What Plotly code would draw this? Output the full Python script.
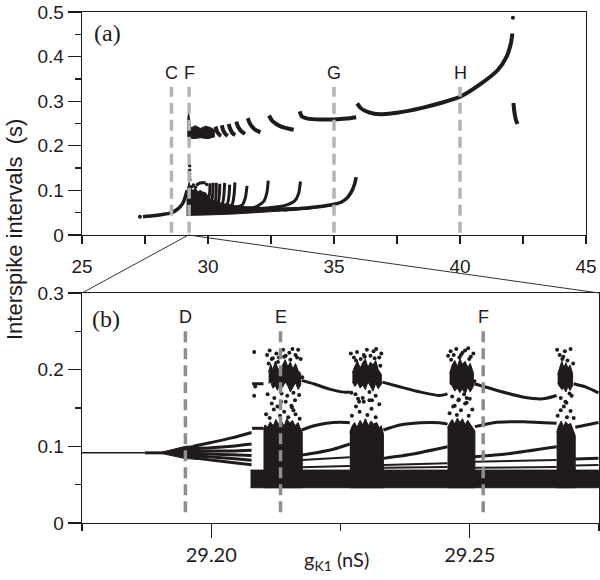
import plotly.graph_objects as go

INK = '#1f1b1c'
W, H = 600, 580


def px(x):                   # page pixel -> paper x
    return x / W


def py(y):                   # page pixel -> paper y
    return (H - y) / H


# ================= panel (a) data =================
a_lead_dot_x = [27.3]
a_lead_dot_y = [0.041]
a_lead_x = [27.42, 27.8, 28.2, 28.5, 28.75, 29.0, 29.1, 29.17]
a_lead_y = [0.041, 0.043, 0.046, 0.049, 0.056, 0.071, 0.086, 0.1]

a_band_top_x = [29.15, 29.2, 29.25, 29.3, 29.4, 29.5, 29.6, 29.7, 29.8, 29.9, 29.97, 30.1, 30.4, 30.8, 31.3, 32.0, 33.0, 34.0, 34.6, 35.0]
a_band_top_y = [0.096, 0.108, 0.118, 0.106, 0.1, 0.104, 0.097, 0.1, 0.096, 0.095, 0.09, 0.08, 0.073, 0.068, 0.064, 0.062, 0.061, 0.062, 0.065, 0.069]
a_band_bot_x = [29.15, 29.5, 30.0, 31.0, 32.0, 33.0, 34.0, 35.0]
a_band_bot_y = [0.044, 0.044, 0.045, 0.047, 0.05, 0.054, 0.058, 0.066]

a_main_x = [33.0, 34.0, 34.6, 35.0, 35.3, 35.55, 35.72, 35.82, 35.88]
a_main_y = [0.056, 0.061, 0.065, 0.069, 0.074, 0.085, 0.1, 0.115, 0.13]

a_fingers_x = [
    [29.98, 30.04, 30.07, 30.08],
    [30.05, 30.15, 30.19, 30.2],
    [30.1, 30.28, 30.32, 30.33],
    [30.15, 30.4, 30.45, 30.47],
    [30.2, 30.57, 30.63, 30.66],
    [30.3, 30.76, 30.83, 30.86],
    [30.4, 30.95, 31.03, 31.07],
    [30.6, 31.35, 31.48, 31.55],
    [31.0, 31.9, 32.22, 32.34, 32.39],
    [31.8, 32.6, 33.1, 33.45, 33.6, 33.67],
]
a_fingers_y = [
    [0.075, 0.085, 0.098, 0.116],
    [0.07, 0.078, 0.094, 0.117],
    [0.066, 0.074, 0.092, 0.117],
    [0.064, 0.072, 0.09, 0.115],
    [0.062, 0.071, 0.09, 0.117],
    [0.06, 0.069, 0.087, 0.113],
    [0.059, 0.068, 0.088, 0.118],
    [0.058, 0.067, 0.083, 0.11],
    [0.056, 0.063, 0.076, 0.096, 0.122],
    [0.058, 0.062, 0.067, 0.077, 0.094, 0.12],
]
a_dots_x = [29.27, 29.27, 29.27, 29.27, 29.28, 29.35, 29.42, 29.5, 29.58, 29.66, 29.75, 29.85, 29.95]
a_dots_y = [0.155, 0.145, 0.137, 0.13, 0.124, 0.108, 0.112, 0.107, 0.113, 0.116, 0.117, 0.117, 0.113]

a_ucl_x = [29.2, 29.2, 29.23, 29.27, 29.3, 29.32, 29.5, 29.7, 29.9, 30.1, 30.25, 30.25, 30.0, 29.7, 29.4, 29.2]
a_ucl_y = [0.22, 0.262, 0.274, 0.262, 0.248, 0.24, 0.245, 0.239, 0.244, 0.241, 0.236, 0.22, 0.216, 0.218, 0.216, 0.22]

a_arcs_x = [
    [30.3, 30.36, 30.45, 30.52],
    [30.55, 30.6, 30.7, 30.78],
    [30.82, 30.88, 30.98, 31.08],
    [31.12, 31.2, 31.33, 31.47],
    [31.58, 31.66, 31.85, 32.08],
    [32.42, 32.55, 32.9, 33.4],
    [33.64, 33.72, 33.95, 34.5, 35.0, 35.5, 35.88],
    [35.92, 36.05, 36.25, 36.6, 36.9, 37.5, 38.5, 39.3, 40.0, 40.85, 41.5, 41.85, 42.02, 42.08],
    [42.12, 42.16, 42.22, 42.28],
]
a_arcs_y = [
    [0.243, 0.232, 0.225, 0.222],
    [0.246, 0.235, 0.226, 0.222],
    [0.249, 0.238, 0.228, 0.224],
    [0.254, 0.242, 0.232, 0.227],
    [0.262, 0.25, 0.237, 0.23],
    [0.268, 0.256, 0.243, 0.236],
    [0.277, 0.266, 0.261, 0.259, 0.259, 0.261, 0.264],
    [0.295, 0.285, 0.278, 0.272, 0.271, 0.274, 0.285, 0.297, 0.31, 0.34, 0.37, 0.40, 0.43, 0.452],
    [0.296, 0.275, 0.258, 0.249],
]
a_tip_x = [42.1]
a_tip_y = [0.487]

a_mark_names = ['C', 'F', 'G', 'H']
a_mark_x = [28.55, 29.25, 35.0, 40.0]

# ================= panel (b) data =================
b_pre_x = [29.175, 29.1872]
b_pre_y = [0.0915, 0.0915]
b_pre2_x = [29.1872, 29.1908]
b_pre2_y = [0.0915, 0.0915]

b_bund_top_x = [29.1905, 29.192, 29.1935, 29.195, 29.1975]
b_bund_top_y = [0.0925, 0.095, 0.098, 0.1, 0.101]
b_bund_bot_x = [29.1905, 29.192, 29.1935, 29.195, 29.1975]
b_bund_bot_y = [0.0905, 0.088, 0.086, 0.084, 0.083]

b_fan_x = [29.1965, 29.2, 29.204, 29.2078]
b_fan_y = [
    [0.1, 0.105, 0.111, 0.118],
    [0.097, 0.098, 0.1, 0.103],
    [0.094, 0.094, 0.094, 0.095],
    [0.091, 0.09, 0.089, 0.088],
    [0.088, 0.086, 0.084, 0.082],
    [0.085, 0.082, 0.079, 0.076],
]

b_base_x = [29.2076, 29.2749]
b_base_lo = 0.046
b_base_hi = 0.069

b_cols_x = [
    [29.2101, 29.2104, 29.2109, 29.2114, 29.212, 29.2125, 29.213, 29.2136, 29.2141, 29.2146, 29.2152, 29.2157, 29.2162, 29.2168, 29.2172, 29.2176],
    [29.2268, 29.2272, 29.2277, 29.2282, 29.2288, 29.2293, 29.2298, 29.2304, 29.2309, 29.2314, 29.232, 29.2325, 29.2329, 29.2333],
    [29.2457, 29.2461, 29.2466, 29.2471, 29.2476, 29.2481, 29.2486, 29.2491, 29.2496, 29.2501, 29.2506, 29.251],
    [29.2668, 29.2672, 29.2677, 29.2681, 29.2686, 29.269, 29.2695, 29.2699, 29.2704],
]
b_cols_top = [
    [0.122, 0.128, 0.125, 0.132, 0.127, 0.135, 0.129, 0.133, 0.126, 0.136, 0.13, 0.134, 0.127, 0.131, 0.124, 0.118],
    [0.118, 0.126, 0.131, 0.125, 0.134, 0.128, 0.136, 0.127, 0.133, 0.129, 0.131, 0.124, 0.127, 0.116],
    [0.124, 0.13, 0.135, 0.129, 0.137, 0.131, 0.136, 0.128, 0.134, 0.129, 0.125, 0.12],
    [0.118, 0.127, 0.133, 0.126, 0.132, 0.128, 0.13, 0.122, 0.114],
]

b_coldots_x = [29.2106, 29.2113, 29.2121, 29.2128, 29.2133, 29.2141, 29.2149, 29.2156, 29.2163, 29.2171, 29.2117, 29.2144, 29.2159,
               29.2272, 29.228, 29.2287, 29.2295, 29.2302, 29.231, 29.2318, 29.2325, 29.2284, 29.2306,
               29.2461, 29.2468, 29.2475, 29.2483, 29.2491, 29.2498, 29.2505, 29.2479, 29.2494,
               29.267, 29.2676, 29.2682, 29.2688, 29.2695, 29.2701, 29.2685]
b_coldots_y = [0.142, 0.137, 0.148, 0.152, 0.14, 0.145, 0.138, 0.151, 0.142, 0.136, 0.156, 0.158, 0.147,
               0.14, 0.152, 0.145, 0.158, 0.141, 0.149, 0.138, 0.155, 0.162, 0.16,
               0.143, 0.152, 0.141, 0.147, 0.156, 0.14, 0.148, 0.161, 0.163,
               0.14, 0.147, 0.152, 0.138, 0.146, 0.137, 0.158]

b_ucore_x = [
    [29.2111, 29.2115, 29.2119, 29.2124, 29.2128, 29.2133, 29.2138, 29.2143, 29.2148, 29.2153, 29.2158, 29.2163, 29.2168, 29.2173,
     29.2173, 29.2168, 29.2163, 29.2158, 29.2153, 29.2148, 29.2143, 29.2138, 29.2133, 29.2128, 29.2124, 29.2119, 29.2115, 29.2111],
    [29.2273, 29.2278, 29.2283, 29.2288, 29.2293, 29.2298, 29.2303, 29.2308, 29.2313, 29.2318, 29.2323, 29.2329,
     29.2329, 29.2323, 29.2318, 29.2313, 29.2308, 29.2303, 29.2298, 29.2293, 29.2288, 29.2283, 29.2278, 29.2273],
    [29.2461, 29.2466, 29.2471, 29.2476, 29.2481, 29.2486, 29.2491, 29.2496, 29.2501, 29.2507,
     29.2507, 29.2501, 29.2496, 29.2491, 29.2486, 29.2481, 29.2476, 29.2471, 29.2466, 29.2461],
    [29.267, 29.2674, 29.2678, 29.2682, 29.2686, 29.269, 29.2694, 29.2699,
     29.2699, 29.2694, 29.269, 29.2686, 29.2682, 29.2678, 29.2674, 29.267],
]
b_ucore_y = [
    [0.197, 0.207, 0.2, 0.211, 0.203, 0.198, 0.206, 0.213, 0.204, 0.21, 0.201, 0.208, 0.199, 0.195,
     0.18, 0.174, 0.183, 0.176, 0.171, 0.179, 0.184, 0.177, 0.182, 0.173, 0.179, 0.176, 0.184, 0.182],
    [0.196, 0.205, 0.211, 0.202, 0.209, 0.214, 0.203, 0.21, 0.206, 0.212, 0.2, 0.194,
     0.181, 0.175, 0.182, 0.172, 0.178, 0.184, 0.174, 0.18, 0.176, 0.183, 0.178, 0.184],
    [0.195, 0.206, 0.212, 0.204, 0.214, 0.207, 0.211, 0.203, 0.208, 0.196,
     0.178, 0.171, 0.177, 0.168, 0.175, 0.17, 0.176, 0.172, 0.179, 0.182],
    [0.194, 0.204, 0.211, 0.203, 0.209, 0.202, 0.206, 0.195,
     0.179, 0.173, 0.178, 0.171, 0.176, 0.174, 0.178, 0.182],
]
b_udots_x = [29.2083, 29.2083, 29.2085, 29.2108, 29.2113, 29.2119, 29.2126, 29.2131, 29.2139, 29.2144, 29.2151, 29.2157, 29.2163, 29.2168, 29.2173, 29.2176, 29.2122, 29.2147, 29.2162, 29.2109, 29.2135, 29.2155, 29.217,
             29.2117, 29.2129, 29.2141, 29.2153, 29.2166, 29.2111, 29.2136, 29.2159,
             29.227, 29.2276, 29.2282, 29.2289, 29.2295, 29.2301, 29.2308, 29.2314, 29.2319, 29.2325, 29.2329, 29.2279, 29.2293, 29.2306, 29.2318, 29.2286, 29.2311,
             29.228, 29.2297, 29.2316, 29.2327, 29.2271,
             29.2458, 29.2463, 29.2469, 29.2474, 29.248, 29.2486, 29.2491, 29.2497, 29.2502, 29.2507, 29.2466, 29.2478, 29.2489, 29.25, 29.2471, 29.2494,
             29.2464, 29.2483, 29.2499, 29.2509,
             29.2669, 29.2674, 29.2679, 29.2684, 29.2689, 29.2695, 29.27, 29.2676, 29.2687, 29.2697, 29.2681, 29.2693]
b_udots_y = [0.223, 0.166, 0.178, 0.219, 0.225, 0.215, 0.221, 0.216, 0.226, 0.218, 0.222, 0.227, 0.219, 0.226, 0.214, 0.19, 0.163, 0.166, 0.16, 0.168, 0.158, 0.153, 0.167,
             0.214, 0.21, 0.217, 0.213, 0.216, 0.208, 0.169, 0.17,
             0.221, 0.216, 0.223, 0.214, 0.219, 0.226, 0.218, 0.224, 0.227, 0.216, 0.221, 0.168, 0.163, 0.171, 0.166, 0.158, 0.16,
             0.212, 0.217, 0.215, 0.205, 0.17,
             0.218, 0.224, 0.219, 0.227, 0.216, 0.222, 0.225, 0.228, 0.217, 0.221, 0.165, 0.16, 0.168, 0.162, 0.153, 0.157,
             0.213, 0.219, 0.214, 0.185,
             0.226, 0.219, 0.214, 0.224, 0.212, 0.227, 0.208, 0.163, 0.157, 0.166, 0.217, 0.169]

b_arcs_x = [
    [29.2079, 29.209, 29.2101],
    [29.2175, 29.2198, 29.2227, 29.2257, 29.2268],
    [29.2331, 29.2368, 29.2405, 29.2442, 29.2457],
    [29.2509, 29.2553, 29.2605, 29.2642, 29.2668],
    [29.2701, 29.2725, 29.2749],
]
b_arcs_y = [
    [0.1816, 0.1816, 0.1816],
    [0.186, 0.1816, 0.175, 0.1707, 0.171],
    [0.1837, 0.177, 0.1707, 0.1663, 0.1685],
    [0.1816, 0.1729, 0.1641, 0.162, 0.1663],
    [0.1816, 0.1772, 0.1698],
]
b_mid_x = [
    [29.2079, 29.2101],
    [29.2175, 29.2197, 29.2223, 29.2249, 29.2268],
    [29.2175, 29.2204, 29.2236, 29.2268],
    [29.2333, 29.2365, 29.2404, 29.2442, 29.2457],
    [29.2333, 29.239, 29.2457],
    [29.251, 29.2546, 29.2604, 29.2668],
    [29.251, 29.257, 29.2668],
    [29.2704, 29.2749],
    [29.2704, 29.2749],
]
b_mid_y = [
    [0.1235, 0.1235],
    [0.1213, 0.1265, 0.13, 0.1313, 0.1308],
    [0.0887, 0.0917, 0.0961, 0.103],
    [0.1213, 0.1278, 0.1308, 0.1308, 0.129],
    [0.0843, 0.09, 0.0995],
    [0.1257, 0.1309, 0.1322, 0.13],
    [0.0865, 0.09, 0.0995],
    [0.125, 0.131],
    [0.0836, 0.0845],
]
b_low_x = [
    [29.2175, 29.2268], [29.2175, 29.2268],
    [29.2333, 29.2457], [29.2333, 29.2457],
    [29.251, 29.2668], [29.251, 29.2668],
    [29.2704, 29.2749],
]
b_low_y = [
    [0.0822, 0.0857], [0.0726, 0.0743],
    [0.0757, 0.0778], [0.072, 0.073],
    [0.08, 0.0822], [0.072, 0.073],
    [0.0749, 0.0755],
]

b_mark_names = ['D', 'E', 'F']
b_mark_x = [29.195, 29.2134, 29.2526]

# ================= layout geometry (page pixels -> paper) =================
xa_dom = [px(82), px(586)]
ya_dom = [py(235), py(12)]
xb_dom = [px(82), px(599)]
yb_dom = [py(523), py(293)]
xa_rng = [25, 45]
xb_rng = [29.175, 29.275]

fig = go.Figure()


def line(xs, ys, w, ax='a'):
    fig.add_trace(go.Scatter(x=xs, y=ys, mode='lines', line=dict(color=INK, width=w, shape='spline', smoothing=0.6),
                             xaxis='x' if ax == 'a' else 'x2', yaxis='y' if ax == 'a' else 'y2',
                             hoverinfo='skip', showlegend=False))


def poly(xs, ys, ax='a'):
    fig.add_trace(go.Scatter(x=xs, y=ys, mode='lines', fill='toself', fillcolor=INK,
                             line=dict(color=INK, width=1),
                             xaxis='x' if ax == 'a' else 'x2', yaxis='y' if ax == 'a' else 'y2',
                             hoverinfo='skip', showlegend=False))


def dots(xs, ys, s, ax='a'):
    fig.add_trace(go.Scatter(x=xs, y=ys, mode='markers', marker=dict(color=INK, size=s),
                             xaxis='x' if ax == 'a' else 'x2', yaxis='y' if ax == 'a' else 'y2',
                             hoverinfo='skip', showlegend=False))


# ---- panel (a) ----
dots(a_lead_dot_x, a_lead_dot_y, 4)
line(a_lead_x, a_lead_y, 3.5)
poly(a_band_top_x + a_band_bot_x[::-1], a_band_top_y + a_band_bot_y[::-1])
line(a_main_x, a_main_y, 3.5)
for fx, fy in zip(a_fingers_x, a_fingers_y):
    line(fx, fy, 3)
dots(a_dots_x, a_dots_y, 3.5)
poly(a_ucl_x, a_ucl_y)
for ax_, ay_ in zip(a_arcs_x, a_arcs_y):
    line(ax_, ay_, 4)
dots(a_tip_x, a_tip_y, 4)

# ---- panel (b) ----
line(b_pre_x, b_pre_y, 1.5, 'b')
line(b_pre2_x, b_pre2_y, 3, 'b')
poly(b_bund_top_x + b_bund_bot_x[::-1], b_bund_top_y + b_bund_bot_y[::-1], 'b')
for fy in b_fan_y:
    line(b_fan_x, fy, 3, 'b')
poly([b_base_x[0], b_base_x[1], b_base_x[1], b_base_x[0]], [b_base_lo, b_base_lo, b_base_hi, b_base_hi], 'b')
for cx, ct in zip(b_cols_x, b_cols_top):
    poly(cx + [cx[-1], cx[0]], ct + [b_base_lo, b_base_lo], 'b')
dots(b_coldots_x, b_coldots_y, 4, 'b')
for ux, uy in zip(b_ucore_x, b_ucore_y):
    poly(ux, uy, 'b')
dots(b_udots_x, b_udots_y, 4, 'b')
for bx, by in zip(b_arcs_x, b_arcs_y):
    line(bx, by, 3, 'b')
for bx, by in zip(b_mid_x, b_mid_y):
    line(bx, by, 3, 'b')
for bx, by in zip(b_low_x, b_low_y):
    line(bx, by, 2, 'b')

# ---- dashed markers and letters ----
shapes = []
annotations = []
for name, xv in zip(a_mark_names, a_mark_x):
    shapes.append(dict(type='line', xref='x', yref='y', x0=xv, x1=xv, y0=0.005, y1=0.332,
                       line=dict(color='#b4b4b4', width=3.5, dash='11px,6px')))
    annotations.append(dict(xref='x', yref='y', x=xv, y=0.364, text=name, showarrow=False,
                            font=dict(family='Liberation Sans', size=18, color=INK)))
for name, xv in zip(b_mark_names, b_mark_x):
    shapes.append(dict(type='line', xref='x2', yref='y2', x0=xv, x1=xv, y0=0.014, y1=0.258,
                       line=dict(color='#8e8e8e', width=3.5, dash='11px,6px')))
    annotations.append(dict(xref='x2', yref='y2', x=xv, y=0.269, text=name, showarrow=False,
                            font=dict(family='Liberation Sans', size=18, color=INK)))

# zoom connector lines from panel (a) axis to panel (b) corners
zx = (xb_rng[0] + xb_rng[1]) / 2
zx_paper = xa_dom[0] + (zx - xa_rng[0]) / (xa_rng[1] - xa_rng[0]) * (xa_dom[1] - xa_dom[0])
for corner in xb_dom:
    shapes.append(dict(type='line', xref='paper', yref='paper', x0=zx_paper, y0=ya_dom[0], x1=corner, y1=yb_dom[1],
                       line=dict(color='#333333', width=1)))

annotations += [
    dict(xref='paper', yref='paper', x=px(92), y=py(33), xanchor='left', yanchor='middle', text='(a)',
         showarrow=False, font=dict(family='Liberation Serif', size=24, color=INK)),
    dict(xref='paper', yref='paper', x=px(90), y=py(319), xanchor='left', yanchor='middle', text='(b)',
         showarrow=False, font=dict(family='Liberation Serif', size=24, color=INK)),
    dict(xref='paper', yref='paper', x=px(14), y=py(230), xanchor='center', yanchor='middle',
         text='Interspike intervals  (s)', textangle=-90, showarrow=False,
         font=dict(family='Liberation Sans', size=22, color=INK)),
    dict(xref='paper', yref='paper', x=px(336), y=py(560), xanchor='center', yanchor='middle',
         text='g<sub>K1</sub> (nS)', showarrow=False,
         font=dict(family='Lato', size=20, color=INK)),
]

axis_common = dict(showline=True, linecolor=INK, linewidth=1.3, mirror=True, ticks='outside',
                   tickcolor=INK, tickwidth=1.3, showgrid=False, zeroline=False, fixedrange=True,
                   automargin=False, ticklabeloverflow='allow')

fig.update_layout(
    width=W, height=H, margin=dict(l=0, r=0, t=0, b=0, autoexpand=False),
    paper_bgcolor='white', plot_bgcolor='white', showlegend=False, hovermode=False,
    shapes=shapes, annotations=annotations,
    xaxis=dict(domain=xa_dom, range=xa_rng, anchor='y', tickvals=[25, 30, 35, 40, 45], ticklen=8,
               minor=dict(dtick=2.5, tick0=25, ticklen=8, ticks='outside', tickcolor=INK, tickwidth=1.3),
               tickfont=dict(family='Liberation Sans', size=19, color=INK), ticklabelstandoff=6, **axis_common),
    yaxis=dict(domain=ya_dom, range=[0, 0.5], anchor='x', tickvals=[0, 0.1, 0.2, 0.3, 0.4, 0.5],
               ticktext=['0', '0.1', '0.2', '0.3', '0.4', '0.5'], ticklen=13,
               minor=dict(dtick=0.05, tick0=0, ticklen=6, ticks='outside', tickcolor=INK, tickwidth=1.3),
               tickfont=dict(family='Liberation Sans', size=19, color=INK), **axis_common),
    xaxis2=dict(domain=xb_dom, range=xb_rng, anchor='y2', tickvals=[29.2, 29.25], ticktext=['29.20', '29.25'],
                ticklen=14,
                minor=dict(dtick=0.025, tick0=29.175, ticklen=7, ticks='outside', tickcolor=INK, tickwidth=1.3),
                tickfont=dict(family='Lato', size=20, color=INK), **axis_common),
    yaxis2=dict(domain=yb_dom, range=[0, 0.3], anchor='x2', tickvals=[0, 0.1, 0.2, 0.3],
                ticktext=['0', '0.1', '0.2', '0.3'], ticklen=13,
                minor=dict(dtick=0.05, tick0=0, ticklen=6, ticks='outside', tickcolor=INK, tickwidth=1.3),
                tickfont=dict(family='Liberation Sans', size=19, color=INK), **axis_common),
)

# remove the browser's default 8px page margin so the figure fills the window exactly
fig.write_html('out.html', config={'displayModeBar': False, 'staticPlot': True},
               post_script="document.body.style.margin='0';document.body.style.overflow='hidden';")
